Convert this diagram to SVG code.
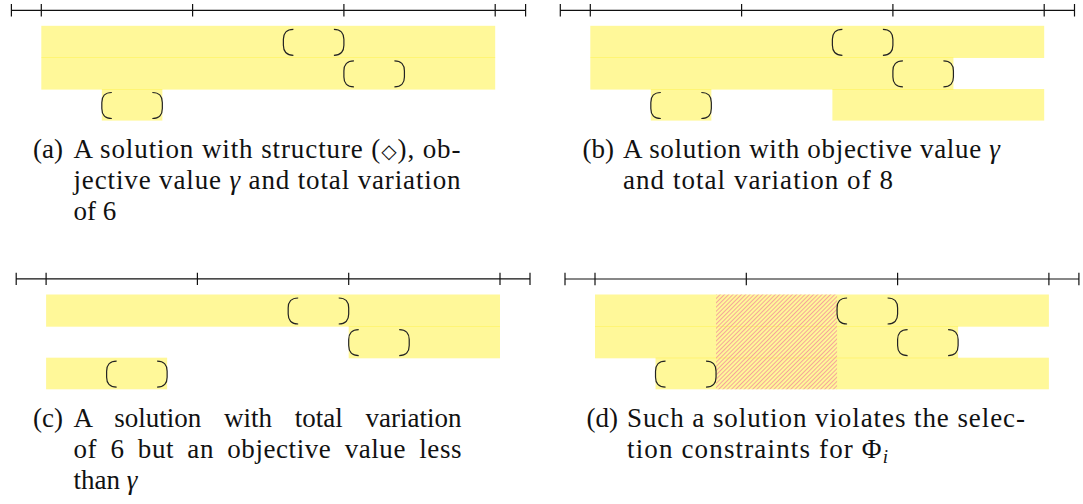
<svg xmlns="http://www.w3.org/2000/svg" width="1083" height="504" viewBox="0 0 1083 504">
<style>
.ax{stroke:#111;stroke-width:1.2;fill:none}
.bar{fill:#ffee00;fill-opacity:0.4}
.par{stroke:#222;stroke-width:1.2;fill:none}
.cap{font-family:"Liberation Serif","Times New Roman",serif;font-size:27px;fill:#111}
.it{font-style:italic}
</style>
<defs>
<path id="lp" class="par" d="M10,0 C3,0 0,4 0,10 L0,16 C0,22 3,26 10,26"/>
<path id="rp" class="par" d="M-10,0 C-3,0 0,4 0,10 L0,16 C0,22 -3,26 -10,26"/>
<pattern id="hatch" width="3" height="10" patternUnits="userSpaceOnUse" patternTransform="rotate(45)">
<line x1="0.5" y1="0" x2="0.5" y2="10" stroke="#f28f9a" stroke-width="0.8"/>
</pattern>
</defs>

<g id="panel-a">
<path class="ax" d="M11.4,10.3 H525.6 M11.4,4.1 V16.5 M41.3,4.1 V16.5 M192.6,4.1 V16.5 M343.9,4.1 V16.5 M495.2,4.1 V16.5 M525.6,4.1 V16.5"/>
<rect class="bar" x="41.3" y="25.8" width="453.9" height="32.2"/>
<rect class="bar" x="41.3" y="57.4" width="453.9" height="32.2"/>
<rect class="bar" x="101.82" y="89" width="60.52" height="31.6"/>
<use href="#lp" x="283.38" y="29.3"/><use href="#rp" x="343.9" y="29.3"/>
<use href="#lp" x="343.9" y="60.9"/><use href="#rp" x="404.42" y="60.9"/>
<use href="#lp" x="101.82" y="92.5"/><use href="#rp" x="162.34" y="92.5"/>
<text class="cap" x="33" y="158">(a)</text>
<text class="cap" x="73.5" y="158" textLength="387" lengthAdjust="spacing">A solution with structure (<tspan font-family="DejaVu Sans" font-size="20">◇</tspan>), ob-</text>
<text class="cap" x="73.5" y="189" textLength="387" lengthAdjust="spacing">jective value <tspan class="it">γ</tspan> and total variation</text>
<text class="cap" x="73.5" y="220">of 6</text>
</g>

<g id="panel-b">
<path class="ax" d="M560.3,10.3 H1074.5 M560.3,4.1 V16.5 M590.3,4.1 V16.5 M741.6,4.1 V16.5 M892.9,4.1 V16.5 M1044.2,4.1 V16.5 M1074.5,4.1 V16.5"/>
<rect class="bar" x="590.3" y="25.8" width="453.9" height="32.2"/>
<rect class="bar" x="590.3" y="57.4" width="363.12" height="32.2"/>
<rect class="bar" x="650.82" y="89" width="60.52" height="31.6"/>
<rect class="bar" x="832.38" y="89" width="211.82" height="31.6"/>
<use href="#lp" x="832.38" y="29.3"/><use href="#rp" x="892.9" y="29.3"/>
<use href="#lp" x="892.9" y="60.9"/><use href="#rp" x="953.42" y="60.9"/>
<use href="#lp" x="650.82" y="92.5"/><use href="#rp" x="711.34" y="92.5"/>
<text class="cap" x="582.5" y="158">(b)</text>
<text class="cap" x="623" y="158" textLength="377" lengthAdjust="spacing">A solution with objective value <tspan class="it">γ</tspan></text>
<text class="cap" x="623" y="189" textLength="270" lengthAdjust="spacing">and total variation of 8</text>
</g>

<g id="panel-c">
<path class="ax" d="M16.2,278.9 H530 M16.2,272.7 V285.1 M46.1,272.7 V285.1 M197.4,272.7 V285.1 M348.7,272.7 V285.1 M500,272.7 V285.1 M530,272.7 V285.1"/>
<rect class="bar" x="46.1" y="294.5" width="453.9" height="32.2"/>
<rect class="bar" x="348.7" y="326.1" width="151.3" height="32.2"/>
<rect class="bar" x="46.1" y="357.7" width="121.04" height="31.6"/>
<use href="#lp" x="288.18" y="298"/><use href="#rp" x="348.7" y="298"/>
<use href="#lp" x="348.7" y="329.6"/><use href="#rp" x="409.22" y="329.6"/>
<use href="#lp" x="106.62" y="361.2"/><use href="#rp" x="167.14" y="361.2"/>
<text class="cap" x="33" y="426.6">(c)</text>
<text class="cap" x="73.5" y="426.6" word-spacing="16" textLength="388" lengthAdjust="spacing">A solution with total variation</text>
<text class="cap" x="73.5" y="457.6" word-spacing="6" textLength="388" lengthAdjust="spacing">of 6 but an objective value less</text>
<text class="cap" x="73.5" y="488.6">than <tspan class="it">γ</tspan></text>
</g>

<g id="panel-d">
<path class="ax" d="M565,279 H1078.9 M565,272.8 V285.2 M595,272.8 V285.2 M746.3,272.8 V285.2 M897.6,272.8 V285.2 M1048.9,272.8 V285.2 M1078.9,272.8 V285.2"/>
<rect class="bar" x="595" y="294.5" width="453.9" height="32.2"/>
<rect class="bar" x="595" y="326.1" width="363.12" height="32.2"/>
<rect class="bar" x="655.52" y="357.7" width="393.38" height="31.6"/>
<rect x="716.04" y="294.5" width="121.04" height="94.8" fill="url(#hatch)"/>
<use href="#lp" x="837.08" y="298"/><use href="#rp" x="897.6" y="298"/>
<use href="#lp" x="897.6" y="329.6"/><use href="#rp" x="958.12" y="329.6"/>
<use href="#lp" x="655.52" y="361.2"/><use href="#rp" x="716.04" y="361.2"/>
<text class="cap" x="586.5" y="426.6">(d)</text>
<text class="cap" x="627" y="426.6" textLength="398" lengthAdjust="spacing">Such a solution violates the selec-</text>
<text class="cap" x="627" y="457.6" textLength="261" lengthAdjust="spacing">tion constraints for Φ<tspan class="it" font-size="19" dy="5">i</tspan></text>
</g>
</svg>
